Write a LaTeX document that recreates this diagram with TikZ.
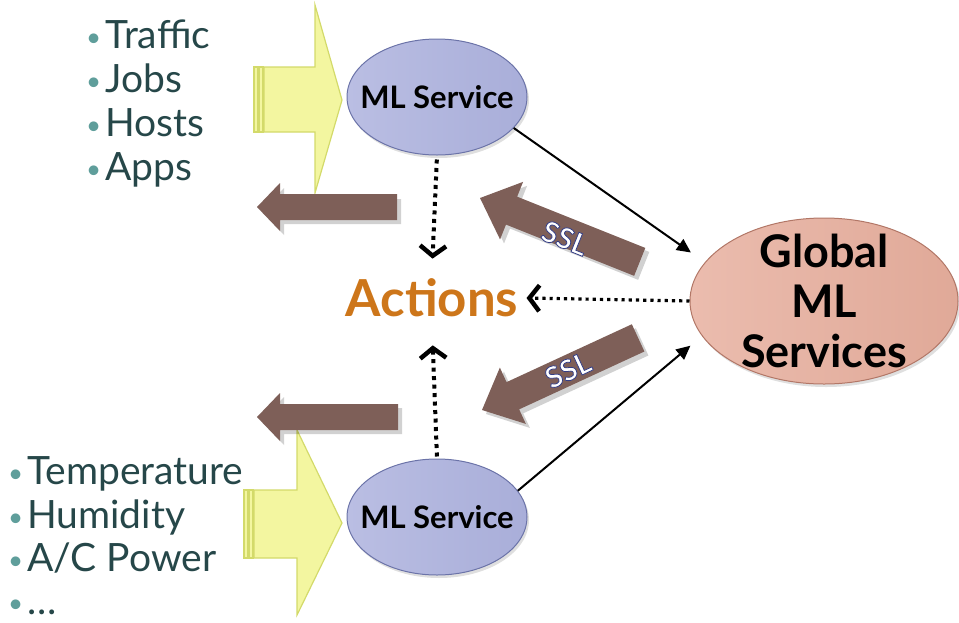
\documentclass[tikz,border=0pt]{standalone}
\usepackage{fontspec}
\setmainfont{Lato}
\usetikzlibrary{shapes.geometric,arrows.meta,shadows,calc}
\definecolor{yelfill}{HTML}{F3F6A0}
\definecolor{yeledge}{HTML}{D3DA6A}
\definecolor{brn}{HTML}{7E5F58}
\definecolor{mlfill}{HTML}{A9AED9}
\definecolor{mlfillL}{HTML}{BABEE3}
\definecolor{mledge}{HTML}{6B73A8}
\definecolor{glfill}{HTML}{E0A998}
\definecolor{glfillL}{HTML}{EBBCAE}
\definecolor{gledge}{HTML}{B27767}
\definecolor{actc}{HTML}{CD761A}
\definecolor{bulc}{HTML}{5F9E9B}
\definecolor{txtc}{HTML}{264749}
\newcommand{\mybul}{{\color{bulc}\fontsize{26}{26}\selectfont\raisebox{2pt}{•}}\hspace{4pt}}
\newcommand{\outlinedtext}[1]{\special{pdf:literal direct 2 Tr 0.8 w 0.20 0.24 0.52 RG}#1\special{pdf:literal direct 0 Tr}}
\begin{document}
\begin{tikzpicture}[x=1pt,y=-1pt,
  yelarrow/.style={fill=yelfill, draw=yeledge, line width=1.2pt, line join=miter},
  brnarrow/.style={fill=brn, draw=none},
  brnshadow/.style={fill=black, opacity=0.18, draw=none},
  mlnode/.style={ellipse, draw=mledge, line width=1pt, left color=mlfillL, right color=mlfill,
     minimum width=180pt, minimum height=116pt, inner xsep=-18pt, inner ysep=0pt,
     font=\bfseries\fontsize{31}{34}\selectfont,
     drop shadow={opacity=0.25, shadow xshift=2pt, shadow yshift=-3pt}},
  glnode/.style={ellipse, draw=gledge, line width=1pt, left color=glfillL, right color=glfill,
     minimum width=268pt, minimum height=166pt, inner xsep=0pt, inner ysep=-32pt, align=center,
     font=\bfseries\fontsize{45}{50}\selectfont,
     drop shadow={opacity=0.25, shadow xshift=2pt, shadow yshift=-3pt}},
  listtxt/.style={anchor=base west, inner sep=0pt, text=txtc, font=\fontsize{39}{44}\selectfont},
  dotarrow/.style={line width=4pt, dash pattern=on 4pt off 4.5pt,
     -{Straight Barb[length=10pt,width=26pt,line width=4.5pt]}},
  solidarrow/.style={line width=2pt, -{Triangle[length=14pt,width=13pt]}},
  ssltxt/.style={text=white, font=\bfseries\fontsize{29}{30}\selectfont, inner sep=0pt}
]
\useasboundingbox (0,0) rectangle (959,622);

% ---- yellow input arrows ----
\filldraw[yelarrow] (264,67) -- (315,67) -- (315,5) -- (342,100) -- (315,193) -- (315,132) -- (264,132) -- cycle;
\filldraw[yelarrow] (254,67) rectangle (258,132);
\filldraw[yelarrow] (259,67) rectangle (263,132);

\filldraw[yelarrow] (254,490) -- (297,490) -- (297,430) -- (342,523) -- (297,615) -- (297,558) -- (254,558) -- cycle;
\filldraw[yelarrow] (244,490) rectangle (248,558);
\filldraw[yelarrow] (249,490) rectangle (253,558);

% ---- brown left arrows ----
\fill[brnshadow] (401,199) -- (284,199) -- (284,188) -- (261,211) -- (284,235) -- (284,224) -- (401,224) -- cycle;
\fill[brnarrow] (397,194) -- (280,194) -- (280,183) -- (257,207) -- (280,231) -- (280,220) -- (397,220) -- cycle;
\fill[brnshadow] (402,408) -- (284,408) -- (284,397) -- (261,421) -- (284,445) -- (284,434) -- (402,434) -- cycle;
\fill[brnarrow] (398,404) -- (280,404) -- (280,393) -- (257,417) -- (280,441) -- (280,430) -- (398,430) -- cycle;

% ---- SSL arrows ----
\begin{scope}[shift={(484,202)}, rotate=-21.8]
  \fill[brnshadow] (0,0) -- (34,-31) -- (34,-15) -- (172,-15) -- (172,15) -- (34,15) -- (34,31) -- cycle;
\end{scope}
\begin{scope}[shift={(480,198)}, rotate=-21.8]
  \fill[brnarrow] (0,0) -- (34,-31) -- (34,-15) -- (172,-15) -- (172,15) -- (34,15) -- (34,31) -- cycle;
\end{scope}
\begin{scope}[shift={(486,414)}, rotate=24.8]
  \fill[brnshadow] (0,0) -- (34,-31) -- (34,-15) -- (172,-15) -- (172,15) -- (34,15) -- (34,31) -- cycle;
\end{scope}
\begin{scope}[shift={(482,410)}, rotate=24.8]
  \fill[brnarrow] (0,0) -- (34,-31) -- (34,-15) -- (172,-15) -- (172,15) -- (34,15) -- (34,31) -- cycle;
\end{scope}

\node[ssltxt, rotate=-22] (ssl1) at (565,238) {\outlinedtext{SSL}};
\node[ssltxt, rotate=25] (ssl2) at (568,370) {\outlinedtext{SSL}};

% ---- nodes ----
\node[mlnode] (mltop) at (437,97) {ML Service};
\node[mlnode] (mlbot) at (437,517) {ML Service};
\node[glnode] (global) at (824,301) {Global\\ML\\Services};
\node[text=actc, font=\bfseries\fontsize{51}{54}\selectfont, inner sep=8pt] (actions) at (432,298) {Actions};

% ---- bullet lists ----
\node[listtxt] (t1) at (86,48) {\mybul Traffic};
\node[listtxt] (t2) at (86,92) {\mybul Jobs};
\node[listtxt] (t3) at (86,136) {\mybul Hosts};
\node[listtxt] (t4) at (86,180) {\mybul Apps};

\node[listtxt] (u1) at (8,484) {\mybul Temperature};
\node[listtxt] (u2) at (8,528) {\mybul Humidity};
\node[listtxt] (u3) at (8,571) {\mybul A/C Power};
\node[listtxt] (u4) at (8,614) {\mybul …};

% ---- connectors ----
\draw[dotarrow, shorten <=4pt, shorten >=12pt] (mltop.south) -- (actions.north);
\draw[dotarrow, shorten <=2pt, shorten >=20pt] (mlbot.north) -- (actions.south);
\draw[dotarrow, line width=3.2pt, dash pattern=on 3.2pt off 4pt] (global.west) -- (actions.east);
\draw[solidarrow, shorten >=17pt] (mltop.-22) -- (global.162);
\draw[solidarrow, shorten >=15pt] (mlbot.18) -- (global.-164);
\end{tikzpicture}
\end{document}
